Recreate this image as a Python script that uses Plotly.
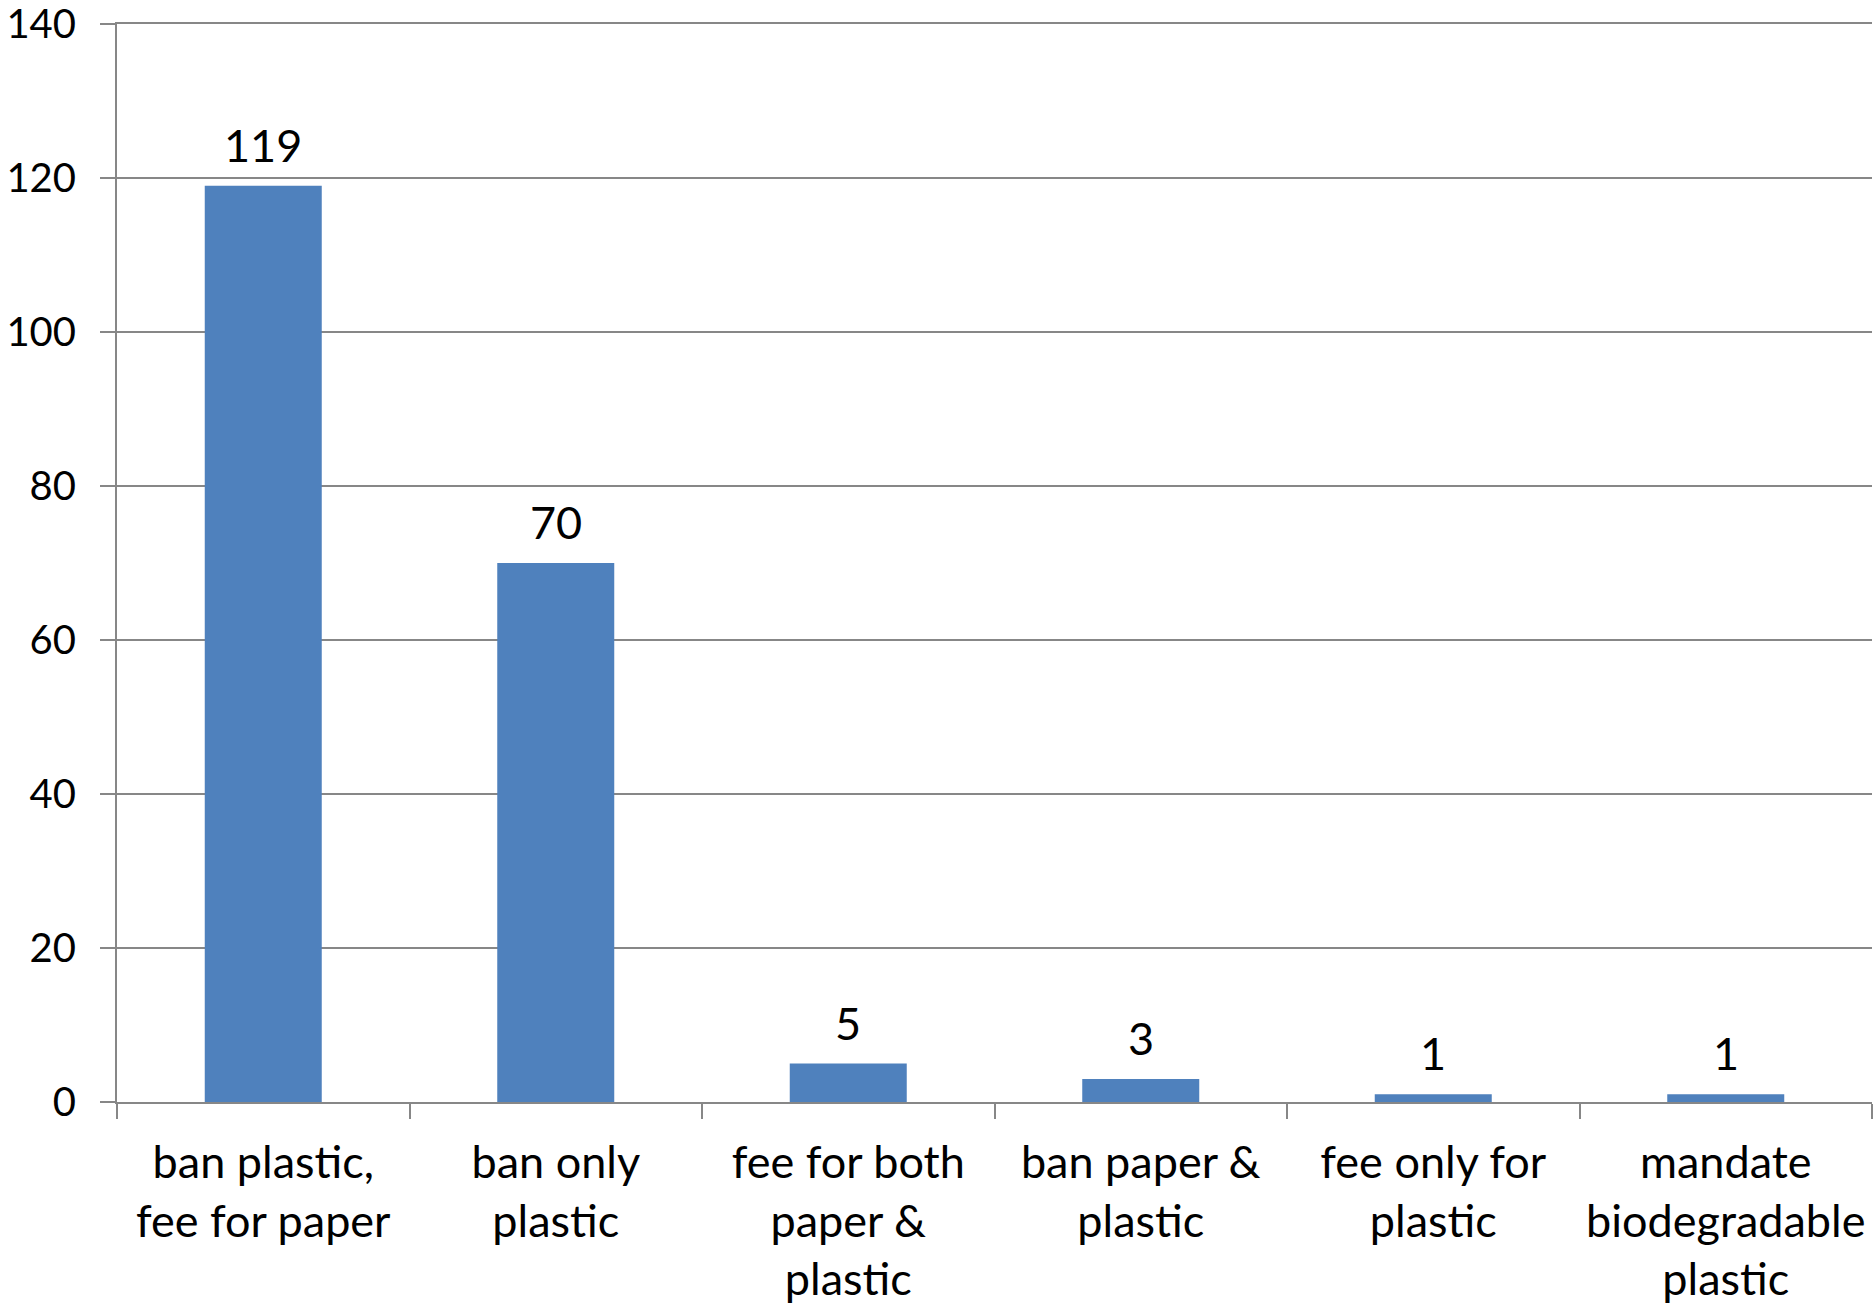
import plotly.graph_objects as go

# Bag-ordinance policy types and how many jurisdictions adopted each
categories = [
    "ban plastic,<br>fee for paper",
    "ban only<br>plastic",
    "fee for both<br>paper &amp;<br>plastic",
    "ban paper &amp;<br>plastic",
    "fee only for<br>plastic",
    "mandate<br>biodegradable<br>plastic",
]
counts = [119, 70, 5, 3, 1, 1]
y_ticks = [0, 20, 40, 60, 80, 100, 120, 140]

BAR = "#4F81BD"
GRID = "#878787"
FONT = dict(family="Lato, Carlito, Calibri, sans-serif", size=45, color="#000000")
YFONT = dict(FONT, size=40)

fig = go.Figure(
    go.Bar(
        x=categories,
        y=counts,
        marker=dict(color=BAR, line=dict(width=0)),
        width=0.4,
        hoverinfo="x+y",
    )
)

# value labels sitting a little above each bar
for cat, v in zip(categories, counts):
    fig.add_annotation(
        x=cat,
        y=v,
        text=str(v),
        showarrow=False,
        yanchor="bottom",
        yshift=12,
        font=FONT,
    )

fig.update_layout(
    width=1874,
    height=1304,
    margin=dict(l=117, r=2, t=24, b=202, autoexpand=False),
    paper_bgcolor="white",
    plot_bgcolor="white",
    font=FONT,
    showlegend=False,
)

fig.update_xaxes(
    type="category",
    automargin=False,
    showline=True,
    mirror=True,  # top border doubles as the 140 gridline
    linecolor=GRID,
    linewidth=2,
    ticks="outside",
    tickson="boundaries",
    ticklen=15,
    tickwidth=2,
    tickcolor=GRID,
    showgrid=False,
    tickangle=0,
    tickfont=FONT,
    ticklabelstandoff=20,
)

fig.update_yaxes(
    range=[0, 140],
    automargin=False,
    tickvals=y_ticks,
    ticktext=[str(v) for v in y_ticks],
    ticklabeloverflow="allow",
    showline=True,
    linecolor=GRID,
    linewidth=2,
    ticks="outside",
    ticklen=15,
    tickwidth=2,
    tickcolor=GRID,
    showgrid=True,
    gridcolor=GRID,
    gridwidth=2,
    zeroline=False,
    tickfont=YFONT,
    ticklabelstandoff=16,
)

fig.write_html("out.html")
